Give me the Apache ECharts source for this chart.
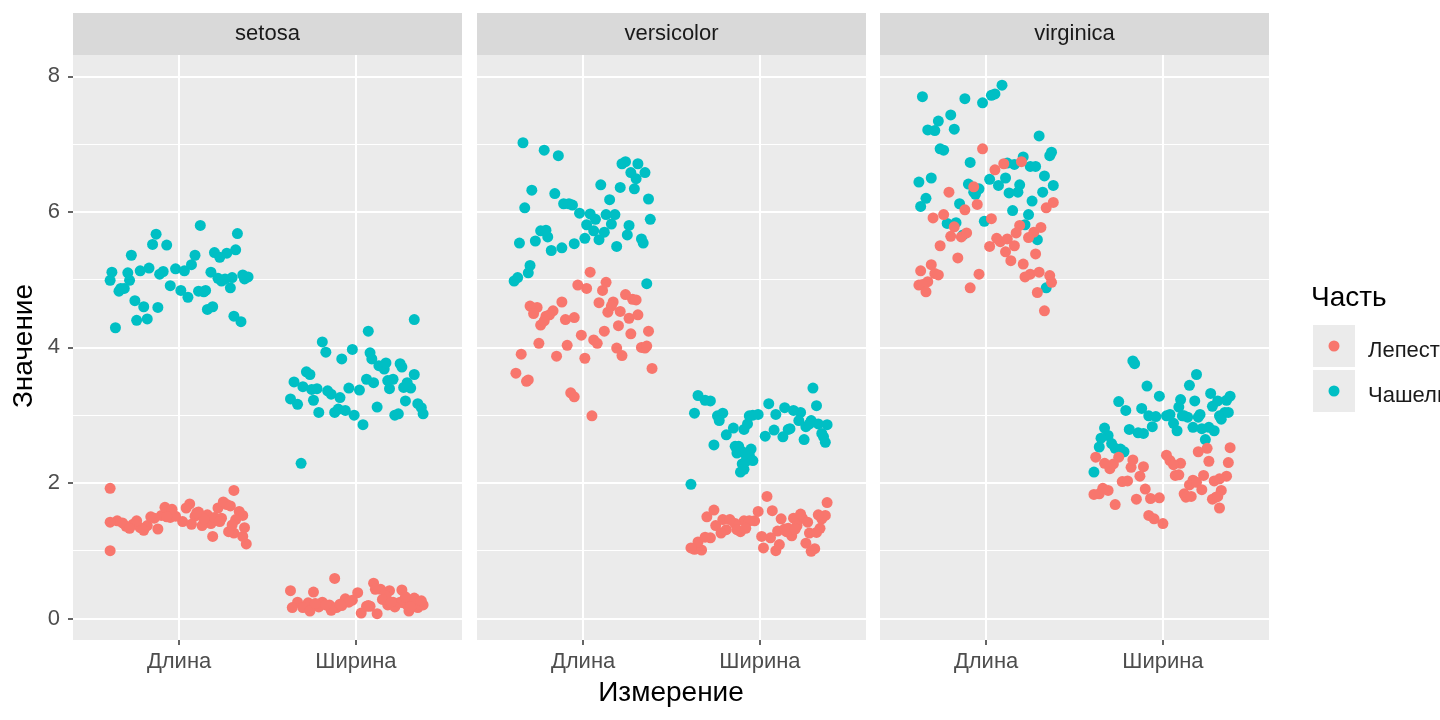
<!DOCTYPE html>
<html><head><meta charset="utf-8">
<script src="https://cdn.jsdelivr.net/npm/echarts@6/dist/echarts.min.js"></script>
<style>html,body{margin:0;padding:0;background:#fff}#c{width:1440px;height:720px}</style>
</head><body><div id="c"></div>
<script>
// ---- categories / labels ----
const species = ['setosa', 'versicolor', 'virginica'];
const measures = ['Длина', 'Ширина'];
const parts = ['Лепесток', 'Чашелистик'];
const yTicks = [0, 2, 4, 6, 8];
const yMinor = [1, 3, 5, 7];
const xTicks = [1, 2];

// ---- values (iris) ----
const setosaSepalLength = [5.1,4.9,4.7,4.6,5.0,5.4,4.6,5.0,4.4,4.9,5.4,4.8,4.8,4.3,5.8,5.7,5.4,5.1,5.7,5.1,5.4,5.1,4.6,5.1,4.8,5.0,5.0,5.2,5.2,4.7,4.8,5.4,5.2,5.5,4.9,5.0,5.5,4.9,4.4,5.1,5.0,4.5,4.4,5.0,5.1,4.8,5.1,4.6,5.3,5.0];
const setosaSepalWidth  = [3.5,3.0,3.2,3.1,3.6,3.9,3.4,3.4,2.9,3.1,3.7,3.4,3.0,3.0,4.0,4.4,3.9,3.5,3.8,3.8,3.4,3.7,3.6,3.3,3.4,3.0,3.4,3.5,3.4,3.2,3.1,3.4,4.1,4.2,3.1,3.2,3.5,3.6,3.0,3.4,3.5,2.3,3.2,3.5,3.8,3.0,3.8,3.2,3.7,3.3];
const setosaPetalLength = [1.4,1.4,1.3,1.5,1.4,1.7,1.4,1.5,1.4,1.5,1.5,1.6,1.4,1.1,1.2,1.5,1.3,1.4,1.7,1.5,1.7,1.5,1.0,1.7,1.9,1.6,1.6,1.5,1.4,1.6,1.6,1.5,1.5,1.4,1.5,1.2,1.3,1.4,1.3,1.5,1.3,1.3,1.3,1.6,1.9,1.4,1.6,1.4,1.5,1.4];
const setosaPetalWidth  = [0.2,0.2,0.2,0.2,0.2,0.4,0.3,0.2,0.2,0.1,0.2,0.2,0.1,0.1,0.2,0.4,0.4,0.3,0.3,0.3,0.2,0.4,0.2,0.5,0.2,0.2,0.4,0.2,0.2,0.2,0.2,0.4,0.1,0.2,0.2,0.2,0.2,0.1,0.2,0.2,0.3,0.3,0.2,0.6,0.4,0.3,0.2,0.2,0.2,0.2];

const versicolorSepalLength = [7.0,6.4,6.9,5.5,6.5,5.7,6.3,4.9,6.6,5.2,5.0,5.9,6.0,6.1,5.6,6.7,5.6,5.8,6.2,5.6,5.9,6.1,6.3,6.1,6.4,6.6,6.8,6.7,6.0,5.7,5.5,5.5,5.8,6.0,5.4,6.0,6.7,6.3,5.6,5.5,5.5,6.1,5.8,5.0,5.6,5.7,5.7,6.2,5.1,5.7];
const versicolorSepalWidth  = [3.2,3.2,3.1,2.3,2.8,2.8,3.3,2.4,2.9,2.7,2.0,3.0,2.2,2.9,2.9,3.1,3.0,2.7,2.2,2.5,3.2,2.8,2.5,2.8,2.9,3.0,2.8,3.0,2.9,2.6,2.4,2.4,2.7,2.7,3.0,3.4,3.1,2.3,3.0,2.5,2.6,3.0,2.6,2.3,2.7,3.0,2.9,2.9,2.5,2.8];
const versicolorPetalLength = [4.7,4.5,4.9,4.0,4.6,4.5,4.7,3.3,4.6,3.9,3.5,4.2,4.0,4.7,3.6,4.4,4.5,4.1,4.5,3.9,4.8,4.0,4.9,4.7,4.3,4.4,4.8,5.0,4.5,3.5,3.8,3.7,3.9,5.1,4.5,4.5,4.7,4.4,4.1,4.0,4.4,4.6,4.0,3.3,4.2,4.2,4.2,4.3,3.0,4.1];
const versicolorPetalWidth  = [1.4,1.5,1.5,1.3,1.5,1.3,1.6,1.0,1.3,1.4,1.0,1.5,1.0,1.4,1.3,1.4,1.5,1.0,1.5,1.1,1.8,1.3,1.5,1.2,1.3,1.4,1.4,1.7,1.5,1.0,1.1,1.0,1.2,1.6,1.5,1.6,1.5,1.3,1.3,1.3,1.2,1.4,1.2,1.0,1.3,1.2,1.3,1.3,1.1,1.3];

const virginicaSepalLength = [6.3,5.8,7.1,6.3,6.5,7.6,4.9,7.3,6.7,7.2,6.5,6.4,6.8,5.7,5.8,6.4,6.5,7.7,7.7,6.0,6.9,5.6,7.7,6.3,6.7,7.2,6.2,6.1,6.4,7.2,7.4,7.9,6.4,6.3,6.1,7.7,6.3,6.4,6.0,6.9,6.7,6.9,5.8,6.8,6.7,6.7,6.3,6.5,6.2,5.9];
const virginicaSepalWidth  = [3.3,2.7,3.0,2.9,3.0,3.0,2.5,2.9,2.5,3.6,3.2,2.7,3.0,2.5,2.8,3.2,3.0,3.8,2.6,2.2,3.2,2.8,2.8,2.7,3.3,3.2,2.8,3.0,2.8,3.0,2.8,3.8,2.8,2.8,2.6,3.0,3.4,3.1,3.0,3.1,3.1,3.1,2.7,3.2,3.3,3.0,2.5,3.0,3.4,3.0];
const virginicaPetalLength = [6.0,5.1,5.9,5.6,5.8,6.6,4.5,6.3,5.8,6.1,5.1,5.3,5.5,5.0,5.1,5.3,5.5,6.7,6.9,5.0,5.7,4.9,6.7,4.9,5.7,6.0,4.8,4.9,5.6,5.8,6.1,6.4,5.6,5.1,5.6,6.1,5.6,5.5,4.8,5.4,5.6,5.1,5.1,5.9,5.7,5.2,5.0,5.2,5.4,5.1];
const virginicaPetalWidth  = [2.5,1.9,2.1,1.8,2.2,2.1,1.7,1.8,1.8,2.5,2.0,1.9,2.1,2.0,2.4,2.3,1.8,2.2,2.3,1.5,2.3,2.0,2.0,1.8,2.1,1.8,1.8,1.8,2.1,1.6,1.9,2.0,2.2,1.5,1.4,2.3,2.4,1.8,1.8,2.1,2.4,2.3,1.9,2.3,2.5,2.3,1.9,2.0,2.3,1.8];

// ---- horizontal jitter offsets (category units) ----
const setosaSepalLengthJit = [-0.38,-0.31,0.05,-0.12,0.22,0.09,-0.20,0.30,0.35,-0.05,-0.27,0.14,-0.34,-0.36,0.12,-0.13,0.32,0.18,0.33,-0.22,0.27,-0.09,0.16,-0.29,0.01,0.24,0.37,-0.17,0.07,-0.25,0.11,0.20,-0.02,-0.15,0.29,0.39,-0.07,-0.33,-0.24,0.03,-0.39,0.31,-0.18,0.26,-0.11,0.15,0.36,0.19,0.23,-0.28];
const setosaSepalWidthJit  = [0.10,-0.21,0.28,-0.06,0.33,-0.17,0.19,-0.30,0.04,0.37,0.13,-0.25,0.22,-0.12,-0.02,0.33,0.08,-0.35,0.25,-0.08,0.31,0.16,-0.28,-0.14,0.02,0.38,-0.22,0.21,-0.04,-0.33,0.12,0.27,-0.19,0.07,-0.10,0.35,0.06,-0.26,0.24,-0.16,0.18,-0.31,-0.37,0.29,0.09,-0.01,0.17,-0.24,0.26,-0.09];
const setosaPetalLengthJit = [0.02,-0.26,0.31,-0.10,0.18,0.27,-0.35,0.09,-0.18,0.36,-0.05,0.22,-0.30,0.38,0.36,-0.14,-0.22,0.13,0.25,-0.02,0.06,0.16,-0.39,0.29,-0.39,0.34,-0.08,0.20,-0.32,0.11,0.04,-0.16,0.24,-0.24,0.32,0.19,-0.12,0.07,-0.28,0.14,-0.20,0.37,0.28,-0.04,0.31,-0.39,0.10,0.23,-0.07,0.30];
const setosaPetalWidthJit  = [-0.15,0.27,0.08,-0.33,0.35,0.19,-0.06,0.23,-0.27,0.12,0.38,-0.19,0.03,0.30,-0.11,0.26,-0.24,0.17,0.33,-0.02,0.21,-0.37,0.06,0.10,-0.30,0.29,0.14,-0.08,0.36,-0.21,0.25,0.01,-0.14,0.18,-0.36,0.32,0.07,-0.26,0.22,-0.04,0.28,0.15,-0.17,-0.12,0.11,0.37,-0.09,0.20,0.31,-0.23];

const versicolorSepalLengthJit = [-0.34,0.21,-0.22,-0.05,0.30,0.12,-0.16,0.36,0.27,-0.30,-0.37,0.07,0.18,-0.11,0.33,0.24,-0.27,0.02,0.15,-0.20,0.38,-0.08,0.29,-0.33,0.10,0.35,-0.14,0.31,0.04,-0.24,0.19,-0.36,0.26,-0.02,-0.18,0.13,0.22,-0.29,0.09,-0.12,0.34,-0.06,0.16,-0.39,0.01,0.25,-0.21,0.37,-0.31,0.06];
const versicolorSepalWidthJit  = [0.05,-0.28,0.32,-0.10,0.17,0.26,-0.35,-0.08,0.38,-0.19,-0.39,0.23,-0.09,-0.07,0.29,0.14,-0.24,0.35,-0.11,-0.05,-0.31,0.08,-0.12,-0.15,0.33,-0.37,0.16,-0.04,0.22,-0.26,-0.06,-0.13,0.36,0.03,-0.21,0.30,0.19,-0.08,0.09,-0.10,0.25,-0.06,0.37,-0.04,0.13,-0.01,0.28,-0.23,-0.14,-0.09];
const versicolorPetalLengthJit = [0.28,-0.17,0.02,0.33,-0.26,0.14,0.09,-0.07,-0.30,0.22,-0.32,0.37,0.19,-0.12,-0.38,0.26,-0.21,0.06,0.31,-0.35,0.11,0.35,-0.03,0.17,-0.24,-0.10,0.24,0.13,-0.28,-0.31,0.01,0.39,-0.15,0.04,0.21,-0.19,0.30,-0.05,0.08,0.36,-0.22,0.16,-0.09,-0.05,0.27,-0.01,0.12,0.20,0.05,-0.25];
const versicolorPetalWidthJit  = [-0.09,0.24,-0.30,0.16,0.35,-0.19,0.07,-0.37,0.28,-0.03,-0.33,0.19,0.31,-0.14,0.10,-0.25,0.37,0.02,-0.21,0.26,0.04,-0.11,0.33,-0.28,0.14,0.21,-0.06,0.38,-0.17,0.09,-0.35,0.29,0.18,-0.01,0.23,-0.26,0.12,-0.13,0.34,-0.22,0.06,0.27,-0.31,-0.39,0.15,0.01,0.32,-0.08,0.11,0.20];

const virginicaSepalLengthJit = [0.18,-0.22,0.30,-0.06,0.11,-0.02,0.34,-0.27,0.25,-0.18,-0.31,0.07,0.36,-0.13,0.22,-0.38,0.02,-0.36,-0.12,0.15,-0.24,0.29,0.05,0.13,-0.09,-0.29,0.26,-0.15,0.38,-0.33,-0.20,0.09,0.19,-0.04,-0.37,0.03,0.32,-0.10,0.24,-0.26,0.16,0.37,-0.17,0.21,0.28,0.12,-0.07,0.33,-0.34,-0.01];
const virginicaSepalWidthJit  = [0.27,-0.31,0.14,0.33,-0.08,0.21,-0.36,0.06,-0.22,0.19,0.36,-0.14,0.02,-0.27,0.29,0.10,-0.04,-0.17,0.24,-0.39,0.31,-0.19,0.17,-0.11,0.38,-0.25,0.08,0.35,-0.33,0.12,0.26,-0.16,-0.06,0.22,-0.29,0.04,0.15,-0.21,0.32,0.09,-0.12,0.28,-0.35,0.18,-0.02,0.37,-0.24,0.11,-0.09,0.20];
const virginicaPetalLengthJit = [-0.12,0.25,-0.30,0.08,0.19,0.05,0.33,-0.21,0.31,-0.05,-0.37,0.14,-0.26,0.22,0.36,-0.16,0.02,0.10,-0.02,-0.33,0.27,-0.09,0.20,-0.38,0.17,-0.24,0.29,-0.36,0.12,-0.18,0.38,-0.07,0.24,-0.29,0.06,0.34,-0.14,0.16,-0.34,0.28,-0.20,0.30,-0.27,0.03,-0.11,0.21,0.37,-0.31,0.11,-0.04];
const virginicaPetalWidthJit  = [0.20,-0.34,0.07,0.30,-0.18,0.36,-0.27,0.12,-0.07,0.25,-0.23,0.33,-0.13,0.17,-0.38,0.04,0.28,-0.30,0.10,-0.08,0.37,-0.20,0.15,-0.36,0.23,-0.02,0.31,-0.15,0.09,0.32,-0.31,0.19,-0.11,-0.05,0.00,0.26,-0.25,0.13,-0.39,0.32,0.02,-0.17,0.22,-0.28,0.38,0.06,-0.10,0.29,-0.33,0.16];

// ---- vertical jitter offsets (hundredths of a unit) ----
const setosaSepalLengthJy = [1,-3,4,-1,2,-4,0,3,-2,1,-4,2,3,-1,0,-3,4,1,-2,3,-1,2,-4,0,4,-2,1,-3,2,-1,3,0,-4,2,-2,4,1,-3,0,3,-1,-4,2,1,-2,4,-3,0,3,-1];
const setosaSepalWidthJy  = [-2,4,1,-3,0,3,-1,2,-4,1,3,-2,0,4,-3,1,2,-1,-4,3,0,-2,4,1,-3,2,-1,3,0,-4,2,1,-2,4,-1,-3,3,0,2,-4,1,-1,4,-2,3,0,-3,2,1,-4];
const setosaPetalLengthJy = [3,-1,-4,2,0,-2,4,1,-3,2,-1,3,-4,0,1,-2,4,-3,2,1,-1,3,0,-4,2,-2,4,-1,1,-3,3,0,-2,4,-4,1,2,-1,3,-3,0,4,-2,1,-1,2,-4,3,0,-2];
const setosaPetalWidthJy  = [0,3,-2,4,-4,1,-1,2,3,-3,0,4,-2,1,-4,2,-1,3,0,-3,4,1,-2,2,-4,0,3,-1,1,-3,4,-2,2,0,-4,3,-1,1,-3,4,2,-2,0,-1,3,-4,1,4,-3,2];
const versicolorSepalLengthJy = [2,-4,1,3,-1,0,-3,4,-2,1,3,-1,-4,2,0,4,-3,1,-2,3,-1,2,4,-4,0,-2,3,1,-3,2,-1,4,0,-2,3,-4,1,2,-1,-3,4,0,2,-2,1,-4,3,-1,0,2];
const versicolorSepalWidthJy  = [-3,1,4,-2,0,3,-1,2,-4,1,-2,4,0,-3,2,1,-1,3,-4,0,2,-2,4,1,-3,3,-1,0,2,-4,1,4,-2,-1,3,0,-3,2,1,-4,4,-1,0,3,-2,1,-3,2,4,-1];
const versicolorPetalLengthJy = [1,4,-3,0,-1,2,-4,3,1,-2,0,4,-1,-3,2,3,-4,1,-2,0,4,-1,2,-3,3,1,-2,-4,0,2,4,-1,-3,1,3,-2,0,4,-4,2,-1,1,3,-3,0,-2,4,2,-1,-4];
const versicolorPetalWidthJy  = [4,-2,0,3,-3,1,-1,2,-4,4,1,-2,3,0,-1,-3,2,4,-4,1,0,-2,3,-1,2,-3,4,1,-4,0,3,-1,2,-2,4,0,-3,1,3,-4,-1,2,0,4,-2,1,-3,3,-1,2];
const virginicaSepalLengthJy = [-1,3,2,-4,0,1,-2,4,-3,2,0,-1,3,-4,1,4,-2,0,-3,2,1,-1,4,-2,3,0,-4,2,-1,1,3,-3,0,4,-2,2,-1,1,-4,3,0,-2,4,1,-3,2,-1,3,0,-4];
const virginicaSepalWidthJy  = [2,0,-3,4,-1,1,3,-2,-4,0,2,4,-1,1,-3,3,-2,0,4,-4,1,-1,2,3,-2,0,-3,4,1,-1,2,-4,3,0,-2,1,4,-3,-1,2,0,3,-4,1,-2,4,0,-1,3,-3];
const virginicaPetalLengthJy = [3,-2,1,-4,0,2,4,-1,-3,1,3,-2,0,4,-4,2,-1,1,3,-3,0,-2,4,2,-1,-4,1,3,0,-2,4,-3,2,-1,1,-4,3,0,2,-2,4,1,-3,0,-1,3,-4,2,1,-2];
const virginicaPetalWidthJy  = [-4,2,1,-1,3,0,-2,4,-3,1,2,-1,0,4,-2,3,-4,1,-1,2,0,3,-3,4,1,-2,0,-4,2,3,-1,1,4,-3,0,2,-2,-1,3,-4,1,4,0,-2,2,-3,1,3,-1,0];

// ---- assemble ----
const groups = [
  { petal: [[setosaPetalLength, setosaPetalLengthJit, setosaPetalLengthJy], [setosaPetalWidth, setosaPetalWidthJit, setosaPetalWidthJy]],
    sepal: [[setosaSepalLength, setosaSepalLengthJit, setosaSepalLengthJy], [setosaSepalWidth, setosaSepalWidthJit, setosaSepalWidthJy]] },
  { petal: [[versicolorPetalLength, versicolorPetalLengthJit, versicolorPetalLengthJy], [versicolorPetalWidth, versicolorPetalWidthJit, versicolorPetalWidthJy]],
    sepal: [[versicolorSepalLength, versicolorSepalLengthJit, versicolorSepalLengthJy], [versicolorSepalWidth, versicolorSepalWidthJit, versicolorSepalWidthJy]] },
  { petal: [[virginicaPetalLength, virginicaPetalLengthJit, virginicaPetalLengthJy], [virginicaPetalWidth, virginicaPetalWidthJit, virginicaPetalWidthJy]],
    sepal: [[virginicaSepalLength, virginicaSepalLengthJit, virginicaSepalLengthJy], [virginicaSepalWidth, virginicaSepalWidthJit, virginicaSepalWidthJy]] }
];
function pts(list) {
  const out = [];
  list.forEach(([vals, jx, jy], m) => vals.forEach((v, k) => out.push([xTicks[m] + jx[k], v + jy[k] / 100])));
  return out;
}

const colors = { 'Лепесток': '#F8766D', 'Чашелистик': '#00BFC4' };
const FONT = 'Liberation Sans, Arial, Helvetica, sans-serif';
const Y_MIN = -0.318, Y_MAX = 8.315;
const panelLeft = [73, 477, 880], panelW = 389, panelTop = 55, panelH = 585;

const grid = [], xAxis = [], yAxis = [], series = [], graphic = [];
species.forEach((sp, i) => {
  grid.push({ left: panelLeft[i], top: panelTop, width: panelW, height: panelH,
    show: true, backgroundColor: '#EBEBEB', borderWidth: 0 });
  xAxis.push({ gridIndex: i, type: 'value', min: 0.4, max: 2.6, position: 'bottom',
    axisLine: { show: false, onZero: false },
    axisTick: { show: true, customValues: xTicks, length: 5, lineStyle: { color: '#333333', width: 1.5 } },
    axisLabel: { show: true, customValues: xTicks, formatter: v => measures[Math.round(v) - 1],
      color: '#4D4D4D', fontSize: 22, fontFamily: FONT, margin: 11 },
    splitLine: { show: true, lineStyle: { color: '#FFFFFF', width: 2 } } });
  yAxis.push({ gridIndex: i, type: 'value', min: Y_MIN, max: Y_MAX, position: 'left',
    axisLine: { show: false, onZero: false },
    axisTick: { show: i === 0, customValues: yTicks, length: 5, lineStyle: { color: '#333333', width: 1.5 } },
    axisLabel: { show: i === 0, customValues: yTicks, color: '#4D4D4D', fontSize: 22, fontFamily: FONT, margin: 13 },
    splitLine: { show: true, lineStyle: { color: '#FFFFFF', width: 2 } } });
  yAxis.push({ gridIndex: i, type: 'value', min: Y_MIN, max: Y_MAX, position: 'right',
    axisLine: { show: false, onZero: false },
    axisTick: { show: false, customValues: yMinor },
    axisLabel: { show: false, customValues: yMinor },
    splitLine: { show: true, lineStyle: { color: '#FFFFFF', width: 1.2 } } });
  const g = groups[i];
  series.push({ name: 'Чашелистик', type: 'scatter', xAxisIndex: i, yAxisIndex: 2 * i,
    data: pts(g.sepal), symbolSize: 11, itemStyle: { color: colors['Чашелистик'], opacity: 1 } });
  series.push({ name: 'Лепесток', type: 'scatter', xAxisIndex: i, yAxisIndex: 2 * i,
    data: pts(g.petal), symbolSize: 11, itemStyle: { color: colors['Лепесток'], opacity: 1 } });
  graphic.push({ type: 'rect', shape: { x: panelLeft[i], y: 13, width: panelW, height: 42 }, style: { fill: '#D9D9D9' }, silent: true });
  graphic.push({ type: 'text', x: panelLeft[i] + panelW / 2, y: 34,
    style: { text: sp, fill: '#1A1A1A', fontSize: 22, fontFamily: FONT, align: 'center', verticalAlign: 'middle' }, silent: true });
});

graphic.push({ type: 'text', x: 24, y: 346, rotation: Math.PI / 2,
  style: { text: 'Значение', fill: '#000000', fontSize: 28, fontFamily: FONT, align: 'center', verticalAlign: 'middle' } });
graphic.push({ type: 'text', x: (panelLeft[0] + panelLeft[2] + panelW) / 2, y: 693,
  style: { text: 'Измерение', fill: '#000000', fontSize: 28, fontFamily: FONT, align: 'center', verticalAlign: 'middle' } });
graphic.push({ type: 'text', x: 1311, y: 298,
  style: { text: 'Часть', fill: '#000000', fontSize: 28, fontFamily: FONT, align: 'left', verticalAlign: 'middle' } });
// legend key boxes + key dots
const keyTops = [325, 370];
parts.forEach((p, k) => {
  graphic.push({ type: 'rect', shape: { x: 1313, y: keyTops[k], width: 42, height: 42 }, style: { fill: '#EBEBEB' }, silent: true });
  graphic.push({ type: 'circle', shape: { cx: 1334, cy: keyTops[k] + 21, r: 5.5 }, style: { fill: colors[p] }, silent: true });
});

const chart = echarts.init(document.getElementById('c'), null, { renderer: 'canvas' });
chart.setOption({
  animation: false,
  backgroundColor: '#FFFFFF',
  textStyle: { fontFamily: FONT },
  grid, xAxis, yAxis, series, graphic,
  legend: { orient: 'vertical', left: 1308, top: 323.5, itemWidth: 50, itemHeight: 11, itemGap: 0,
    icon: 'rect', itemStyle: { opacity: 0 }, data: parts, selectedMode: false,
    textStyle: { fontSize: 22, color: '#1A1A1A', fontFamily: FONT, lineHeight: 45 } }
});
</script></body></html>
